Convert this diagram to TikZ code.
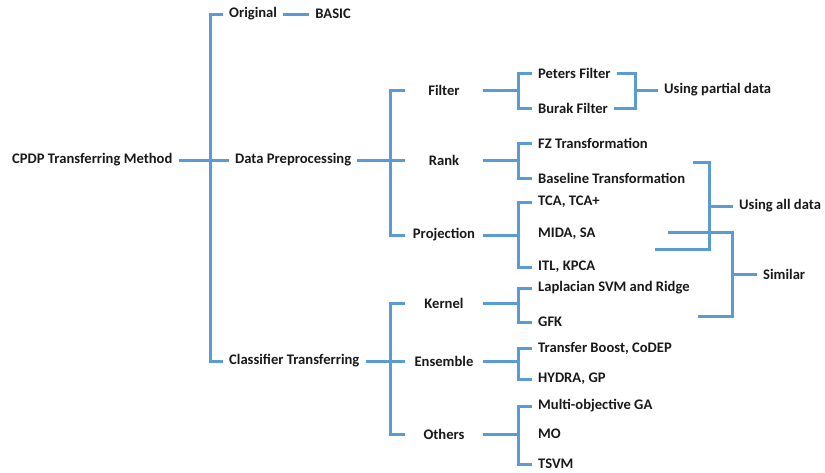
\documentclass[tikz,border=0pt]{standalone}
\usepackage{fontspec}
\setmainfont{Carlito}
\usepackage{tikz}
\usetikzlibrary{positioning}
\definecolor{branchblue}{RGB}{91,155,213}

\begin{document}
\begin{tikzpicture}[x=1pt, y=-1pt,
  every node/.style={font=\bfseries\fontsize{14.6}{16}\selectfont, inner xsep=6pt, inner ysep=2pt, text=black!90},
  leaf/.style={anchor=west},
  group/.style={minimum width=77pt},
  branch/.style={draw=branchblue, line width=3pt}]
\useasboundingbox (0,0) rectangle (825,472);

\node[leaf] (CPDPMethod) at (6,160) {CPDP Transferring Method};
\node[leaf] (Original) at (223,14) {Original};
\node[leaf, right=26pt of Original] (Basic) {BASIC};
\node[leaf] (DataPrep) at (229,160) {Data Preprocessing};
\node[leaf] (ClassTrans) at (223,361) {Classifier Transferring};

\node[group] (Filter) at (444,90) {Filter};
\node[group] (Rank) at (444,160) {Rank};
\node[group] (Projection) at (444,235) {Projection};
\node[group] (Kernel) at (444,303) {Kernel};
\node[group] (Ensemble) at (444,361) {Ensemble};
\node[group] (Others) at (444,434) {Others};

\node[leaf] (Peters) at (532,73) {Peters Filter};
\node[leaf] (Burak) at (532,108) {Burak Filter};
\node[leaf] (FZTrans) at (532,143) {FZ Transformation};
\node[leaf] (BaselineTrans) at (532,178) {Baseline Transformation};
\node[leaf] (TCA) at (532,202) {TCA, TCA+};
\node[leaf] (MIDA) at (532,234) {MIDA, SA};
\node[leaf] (ITL) at (532,267) {ITL, KPCA};
\node[leaf] (Laplacian) at (532,288) {Laplacian SVM and Ridge};
\node[leaf] (GFK) at (532,322) {GFK};
\node[leaf] (TransferBoost) at (532,348) {Transfer Boost, CoDEP};
\node[leaf] (Hydra) at (532,379) {HYDRA, GP};
\node[leaf] (MultiGA) at (532,406) {Multi-objective GA};
\node[leaf] (MO) at (532,434) {MO};
\node[leaf] (TSVM) at (532,464) {TSVM};

\node[leaf] (PartialData) at (658,90) {Using partial data};
\node[leaf] (AllData) at (733,206) {Using all data};
\node[leaf] (Similar) at (757,274) {Similar};

% joints of the brackets
\coordinate (RootJoint) at (210,160);
\coordinate (DataJoint) at (390,160);
\coordinate (ClassJoint) at (390,361);
\coordinate (FilterJoint) at (518,90);
\coordinate (RankJoint) at (518,160);
\coordinate (ProjectionJoint) at (518,235);
\coordinate (KernelJoint) at (518,303);
\coordinate (EnsembleJoint) at (518,361);
\coordinate (OthersJoint) at (518,434);
\coordinate (PartialJoint) at (635,90);
\coordinate (AllJoint) at (709,206);
\coordinate (SimilarJoint) at (732,274);
\coordinate (AllTop) at (693,162);
\coordinate (AllBottom) at (655,249);
\coordinate (SimilarTop) at (668,232);
\coordinate (SimilarBottom) at (698,316);

\draw[branch] (CPDPMethod.east) -- (RootJoint) |- (Original.west);
\draw[branch] (RootJoint) -- (DataPrep.west);
\draw[branch] (RootJoint) |- (ClassTrans.west);
\draw[branch] (Original.east) -- (Basic.west);

\draw[branch] (DataPrep.east) -- (DataJoint) |- (Filter.west);
\draw[branch] (DataJoint) -- (Rank.west);
\draw[branch] (DataJoint) |- (Projection.west);
\draw[branch] (ClassTrans.east) -- (ClassJoint) |- (Kernel.west);
\draw[branch] (ClassJoint) -- (Ensemble.west);
\draw[branch] (ClassJoint) |- (Others.west);

\draw[branch] (Filter.east) -- (FilterJoint) |- (Peters.west);
\draw[branch] (FilterJoint) |- (Burak.west);
\draw[branch] (Rank.east) -- (RankJoint) |- (FZTrans.west);
\draw[branch] (RankJoint) |- (BaselineTrans.west);
\draw[branch] (Projection.east) -- (ProjectionJoint) |- (TCA.west);
\draw[branch] (ProjectionJoint) |- (ITL.west);
\draw[branch] (Kernel.east) -- (KernelJoint) |- (Laplacian.west);
\draw[branch] (KernelJoint) |- (GFK.west);
\draw[branch] (Ensemble.east) -- (EnsembleJoint) |- (TransferBoost.west);
\draw[branch] (EnsembleJoint) |- (Hydra.west);
\draw[branch] (Others.east) -- (OthersJoint) |- (MultiGA.west);
\draw[branch] (OthersJoint) |- (TSVM.west);

\draw[branch] (Peters.east) -| (PartialJoint) -- (PartialData.west);
\draw[branch] (Burak.east) -| (PartialJoint);
\draw[branch] (AllTop) -| (AllJoint) -- (AllData.west);
\draw[branch] (AllBottom) -| (AllJoint);
\draw[branch] (SimilarTop) -| (SimilarJoint) -- (Similar.west);
\draw[branch] (SimilarBottom) -| (SimilarJoint);
\end{tikzpicture}
\end{document}
